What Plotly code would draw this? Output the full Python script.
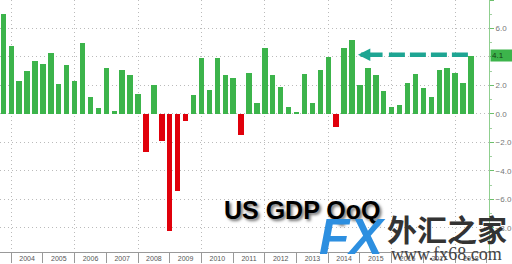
import pandas as pd
import plotly.graph_objects as go

# ---- data ----
quarters = pd.period_range("2003Q3", "2018Q2", freq="Q")
gdp_qoq = [7.0, 4.8, 2.3, 3.0, 3.7, 3.5, 4.3, 2.1, 3.4, 2.3,
           5.0, 1.2, 0.4, 3.2, 0.2, 3.1, 2.7, 1.4, -2.7, 2.0,
           -1.9, -8.2, -5.4, -0.5, 1.3, 3.9, 1.7, 3.9, 2.7, 2.5,
           -1.5, 2.9, 0.8, 4.6, 2.7, 1.9, 0.5, 0.1, 2.8, 0.8,
           3.1, 4.0, -0.9, 4.6, 5.2, 2.0, 3.2, 2.7, 1.6, 0.5,
           0.6, 2.2, 2.8, 1.8, 1.2, 3.1, 3.2, 2.9, 2.2, 4.1]
year_labels = ["2004", "2005", "2006", "2007", "2008", "2009", "2010", "2011",
               "2012", "2013", "2014", "2015", "2016", "2017", "2018"]
latest_label = "4.1"

# bars placed at quarter end (decimal year)
x_pos = [p.year + p.quarter / 4 for p in quarters]

GREEN = "#3cb44b"
RED = "#e0000b"
TEAL = "#1ea593"
colors = [GREEN if v >= 0 else RED for v in gdp_qoq]

X_RANGE = [2003.646, 2019.07]
Y_RANGE = [-9.7, 8.0]

fig = go.Figure()
fig.add_trace(go.Bar(x=x_pos, y=gdp_qoq, marker=dict(color=colors, line=dict(width=0)),
                     width=0.17, showlegend=False, hoverinfo="skip"))
# invisible trace for the grid axis
fig.add_trace(go.Scatter(x=[X_RANGE[0]], y=[0], xaxis="x2", mode="markers",
                         marker=dict(opacity=0), showlegend=False, hoverinfo="skip"))

# dashed arrow back to 2014Q3 peak
arrow_y = 4.15
dash_x = [2015.913, 2018.405]
fig.add_trace(go.Scatter(x=dash_x, y=[arrow_y, arrow_y], mode="lines",
                         line=dict(color=TEAL, width=4.5, dash="16px,5px"),
                         showlegend=False, hoverinfo="skip"))

annotations = [
    dict(x=2014.936, y=arrow_y, ax=2015.76, ay=arrow_y, xref="x", yref="y",
         axref="x", ayref="y", text="", showarrow=True, arrowhead=2,
         arrowsize=0.55, arrowwidth=4.5, arrowcolor=TEAL, standoff=0),
    dict(x=1, xref="paper", y=4.1, yref="y", xanchor="left", yanchor="middle",
         text=latest_label, showarrow=False, bgcolor=GREEN, borderpad=1,
         width=20, align="left", xshift=1,
         font=dict(size=8, color="#173f17", family="Liberation Sans, Arial")),
    dict(x=0.6196, y=0.168, xref="paper", yref="paper", text="<b>US GDP QoQ</b>",
         showarrow=False, xanchor="center", yanchor="middle",
         font=dict(family="Liberation Sans, Arial", size=25, color="black",
                   shadow="2px 2px 3px rgba(0,0,0,0.55)")),
    dict(x=0.72, y=0.06, xref="paper", yref="paper", text="<b><i>FX</i></b>",
         showarrow=False, xanchor="center", yanchor="middle",
         font=dict(family="Liberation Sans, Arial", size=50, color="#2d8fe0")),
    dict(x=0.914, y=0.095, xref="paper", yref="paper", text="<b>外汇之家</b>",
         showarrow=False, xanchor="center", yanchor="middle",
         font=dict(family="Noto Sans CJK SC", size=30, color="#333333")),
    dict(x=0.914, y=-0.008, xref="paper", yref="paper", text="www.fx68.com",
         showarrow=False, xanchor="center", yanchor="middle",
         font=dict(family="Liberation Serif", size=18, color="#444444")),
]

fig.update_layout(
    width=512, height=264,
    margin=dict(l=0, r=23, t=0, b=12, pad=0),
    paper_bgcolor="white", plot_bgcolor="white",
    bargap=0,
    annotations=annotations,
    xaxis=dict(range=X_RANGE, tickmode="array",
               tickvals=[int(y) + 0.5 for y in year_labels], ticktext=year_labels,
               ticks="", showgrid=False, zeroline=False,
               showline=True, linecolor="#999999", linewidth=1,
               tickfont=dict(size=7, color="#555555", family="Liberation Sans, Arial"),
               minor=dict(tickmode="linear", tick0=2004, dtick=1, ticks="outside",
                          ticklen=10, tickcolor="#999999", tickwidth=1, showgrid=False)),
    xaxis2=dict(range=X_RANGE, overlaying="x", anchor="y", tickmode="linear",
                tick0=2004, dtick=2, showgrid=True, gridcolor="#bbbbbb",
                griddash="1px,3px", gridwidth=1, showticklabels=False, ticks="",
                zeroline=False, showline=False),
    yaxis=dict(range=Y_RANGE, side="right", tickmode="linear", tick0=0, dtick=2,
               tickformat=".1f", showgrid=True, gridcolor="#bbbbbb",
               griddash="1px,3px", gridwidth=1, zeroline=False,
               showline=True, linecolor="#8fcf8f", linewidth=1,
               ticks="outside", ticklen=4, tickcolor="#6cbf6c",
               tickfont=dict(size=8, color="#777777", family="Liberation Sans, Arial"),
               minor=dict(tickmode="linear", tick0=0, dtick=1, ticks="outside",
                          ticklen=2, tickcolor="#a0d0a0", showgrid=False)),
)

fig.write_html("out.html")
